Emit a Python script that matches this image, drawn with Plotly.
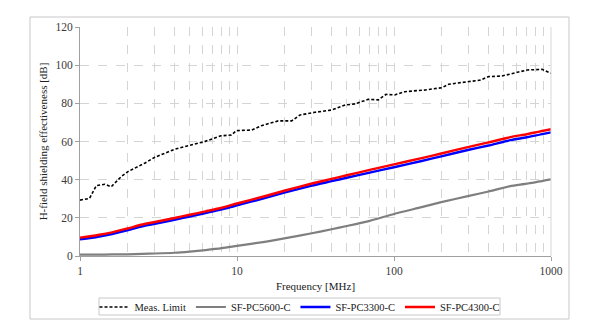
import plotly.graph_objects as go

# Measurement limit (noise floor) of the test setup
limit_freq = [1, 1.15, 1.27, 1.44, 1.58, 1.83, 2.02, 2.58, 2.99, 4.0, 5.1, 6.2, 7.9, 9.2, 9.9,
              12.4, 14.3, 18.3, 22.3, 25.2, 31.4, 40.2, 48.8, 56.4, 68.6, 79.4, 89, 101,
              117, 158, 202, 223, 300, 356, 401, 487, 593, 706, 878, 1000]
limit_db = [29.3, 30.2, 36.9, 37.6, 36.3, 41.6, 44.2, 48.6, 51.7, 55.9, 58.2, 59.9, 63.0, 63.4, 65.7,
            66.0, 68.3, 70.8, 70.8, 73.9, 75.3, 76.5, 79.1, 79.7, 82.1, 81.8, 84.7, 84.4,
            86.1, 87.0, 88.2, 90.0, 91.4, 92.2, 94.0, 94.3, 96.0, 97.5, 97.8, 95.7]

# Shielding effectiveness of the three materials
mat_freq = [1, 1.3, 1.6, 2, 2.5, 3, 4, 5, 6.3, 8, 10, 15, 20, 30, 40, 50, 70, 100,
            150, 200, 300, 400, 550, 700, 1000]
pc5600_db = [0.7, 0.7, 0.8, 0.9, 1.1, 1.3, 1.7, 2.3, 3.1, 4.1, 5.3, 7.4, 9.2, 11.9, 14.0, 15.7, 18.4, 22.0,
             25.6, 28.2, 31.5, 33.8, 36.6, 37.9, 40.2]
pc3300_db = [8.7, 10.1, 11.5, 13.5, 15.6, 16.9, 19.0, 20.7, 22.5, 24.4, 26.6, 30.3, 33.2, 36.9, 39.2, 41.0, 43.7, 46.5,
             49.8, 52.2, 55.7, 57.9, 60.7, 62.2, 64.8]
pc4300_db = [9.6, 11.0, 12.4, 14.4, 16.5, 17.8, 19.9, 21.6, 23.4, 25.3, 27.5, 31.3, 34.2, 38.0, 40.4, 42.3, 45.1, 48.0,
             51.3, 53.7, 57.2, 59.5, 62.3, 63.8, 66.4]

series_names = ["Meas. Limit", "SF-PC5600-C", "SF-PC3300-C", "SF-PC4300-C"]

x_ticks = [1, 10, 100, 1000]
y_ticks = [0, 20, 40, 60, 80, 100, 120]

font_family = "Liberation Serif"
grid_col = "#d4d4d4"
text_col = "#3a3a3a"

# plot-area geometry in pixels, used to place the frame and legend box
W, H = 600, 336
ML, MR, MT, MB = 80, 49, 27, 80
PW, PH = W - ML - MR, H - MT - MB


def px_x(x):
    return (x - ML) / PW


def px_y(y):
    return (H - MB - y) / PH


fig = go.Figure()
fig.add_trace(go.Scatter(x=limit_freq, y=limit_db, name=series_names[0], mode="lines",
                         line=dict(color="black", width=1.6, dash="3px,2px")))
fig.add_trace(go.Scatter(x=mat_freq, y=pc5600_db, name=series_names[1], mode="lines", line_shape="spline",
                         line=dict(color="#7f7f7f", width=2.2, smoothing=0.6)))
fig.add_trace(go.Scatter(x=mat_freq, y=pc3300_db, name=series_names[2], mode="lines", line_shape="spline",
                         line=dict(color="#0000ff", width=2.4, smoothing=0.6)))
fig.add_trace(go.Scatter(x=mat_freq, y=pc4300_db, name=series_names[3], mode="lines", line_shape="spline",
                         line=dict(color="#ff0000", width=2.4, smoothing=0.6)))

fig.update_layout(
    width=W, height=H,
    margin=dict(l=ML, r=MR, t=MT, b=MB, autoexpand=False),
    paper_bgcolor="white", plot_bgcolor="white",
    font=dict(family=font_family, size=11.5, color=text_col),
    showlegend=True,
    legend=dict(orientation="h", x=px_x(300), xanchor="center", y=px_y(292.5), yanchor="top",
                borderwidth=0, bgcolor="rgba(0,0,0,0)", font=dict(size=10.5, color="#202020"),
                itemwidth=30, tracegroupgap=0),
    xaxis=dict(type="log", range=[0, 3], tickvals=x_ticks, ticktext=[str(v) for v in x_ticks],
               showline=True, linecolor="#a0a0a0", linewidth=1,
               ticks="outside", ticklen=4, tickcolor="#a0a0a0",
               showgrid=True, gridcolor=grid_col, griddash="dash", gridwidth=1,
               minor=dict(dtick="D1", showgrid=True, gridcolor=grid_col, griddash="dash", ticks=""),
               zeroline=False,
               title=dict(text="Frequency [MHz]", font=dict(size=11, color="#202020"), standoff=6)),
    yaxis=dict(range=[0, 120], tickvals=y_ticks,
               showline=True, linecolor="#a0a0a0", linewidth=1,
               ticks="outside", ticklen=4, tickcolor="#a0a0a0",
               showgrid=True, gridcolor=grid_col, griddash="dash", gridwidth=1,
               zeroline=False,
               title=dict(text="H-field shielding effectiveness [dB]", font=dict(size=11, color="#202020"),
                          standoff=5)),
)

# Outer frame around the whole chart
fig.add_shape(type="rect", xref="paper", yref="paper",
              x0=px_x(30), x1=px_x(569), y0=px_y(319), y1=px_y(17),
              line=dict(color="#c8c8c8", width=1), layer="below")
# Legend box
fig.add_shape(type="rect", xref="paper", yref="paper",
              x0=px_x(99), x1=px_x(500), y0=px_y(315), y1=px_y(298),
              line=dict(color="#c8c8c8", width=1), layer="below")
# Right edge of the plot area
fig.add_shape(type="line", xref="paper", yref="paper", x0=1, x1=1, y0=0, y1=1,
              line=dict(color="#d8d8d8", width=1))

fig.write_html("out.html")
